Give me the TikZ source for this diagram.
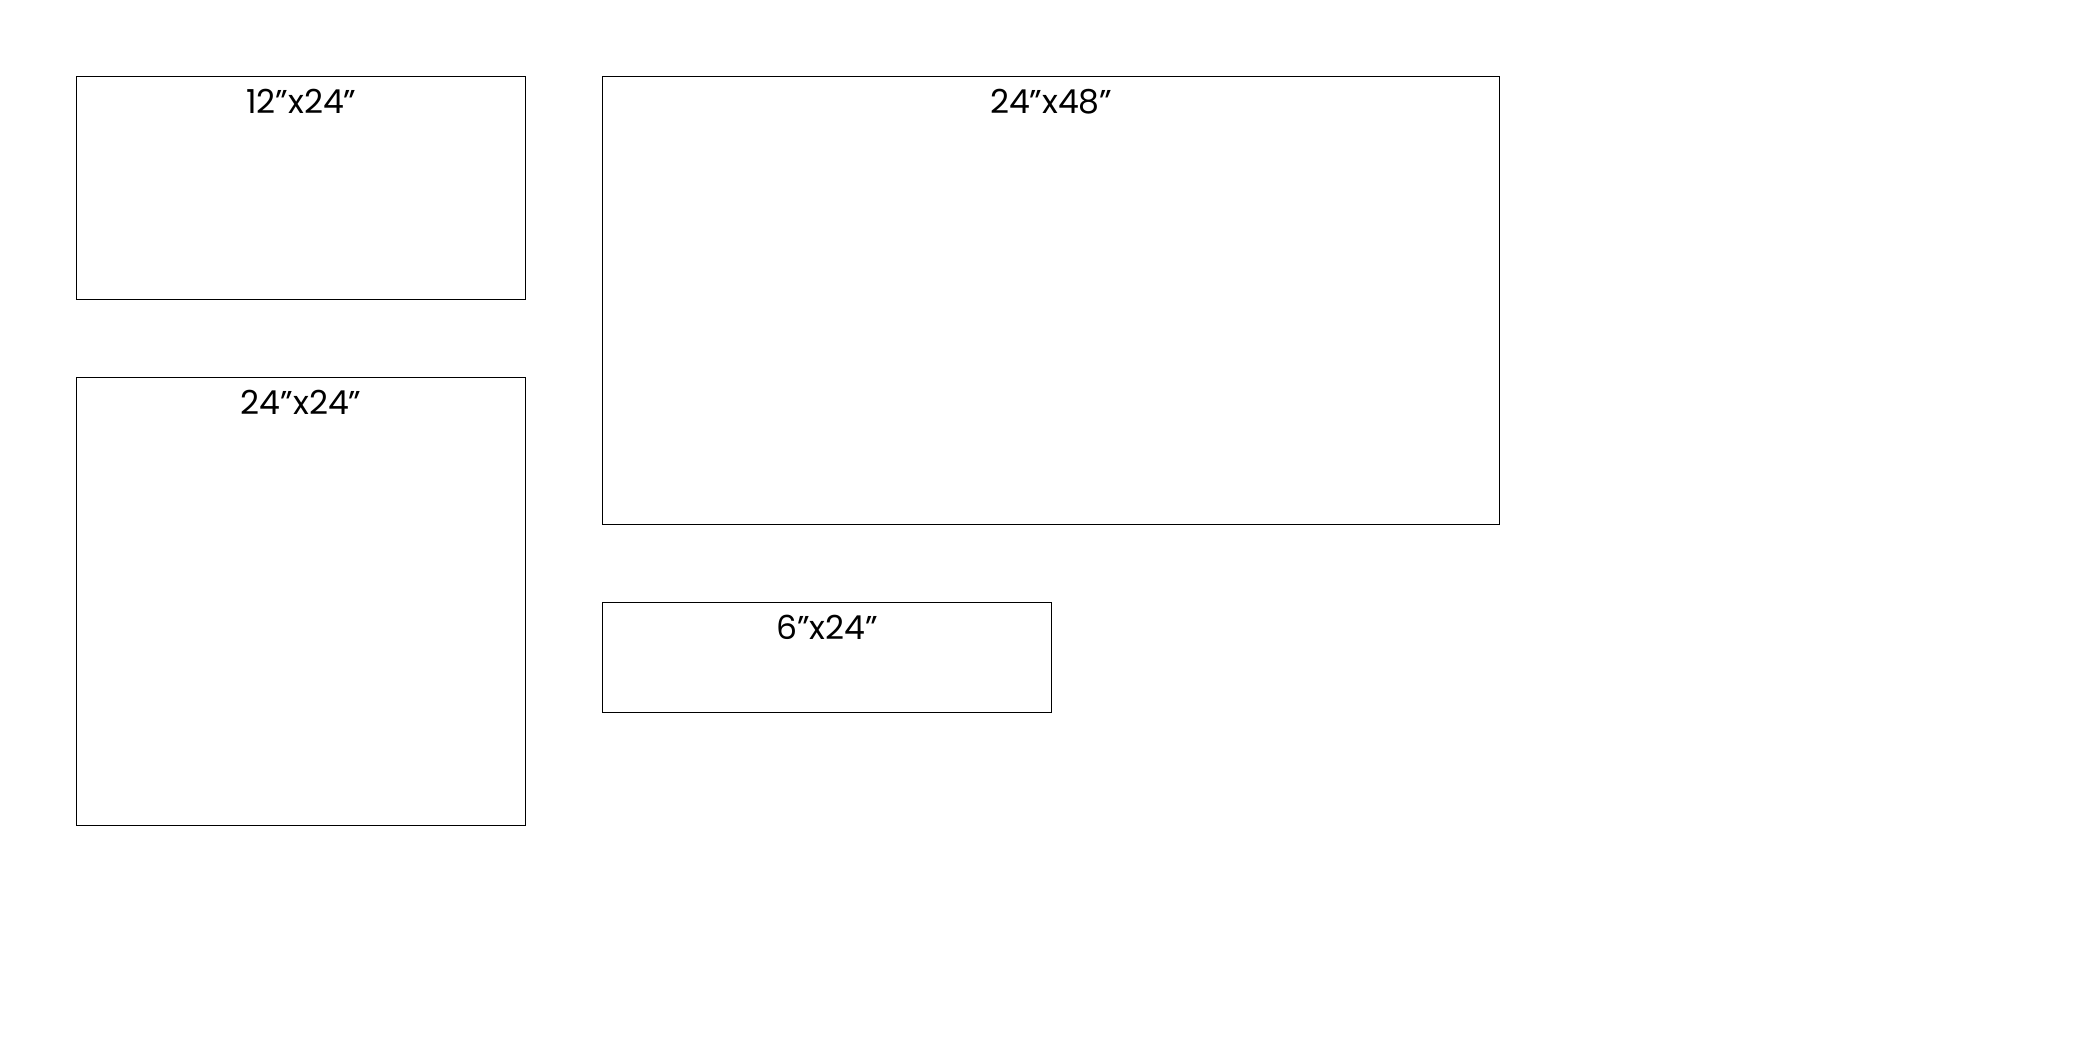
\documentclass[tikz,border=0pt]{standalone}
\usepackage{fontspec}
\setmainfont{Poppins}
\usetikzlibrary{positioning}

\tikzset{
  panel/.style={draw, line width=0.4pt, anchor=north west, inner sep=0pt},
  size label/.style={anchor=north, inner sep=0pt, font=\fontsize{9.4}{11}\selectfont}
}

\begin{document}
\begin{tikzpicture}
    \useasboundingbox (0,0) rectangle (20.83,10.42);

    % panels, 1in = 0.187cm
    \node[panel, minimum width=4.49cm, minimum height=2.23cm] (small) at (0.76,9.66) {};
    \node[panel, minimum width=4.49cm, minimum height=4.48cm] (square) at (0.76,6.65) {};
    \node[panel, minimum width=8.97cm, minimum height=4.48cm] (large) at (6.02,9.66) {};
    \node[panel, minimum width=4.49cm, minimum height=1.10cm] (strip) at (6.02,4.40) {};

    % size labels
    \node[size label, below=0.12cm of small.north] (smalltext) {12"x24"};
    \node[size label, below=0.12cm of square.north] (squaretext) {24"x24"};
    \node[size label, below=0.12cm of large.north] (largetext) {24"x48"};
    \node[size label, below=0.12cm of strip.north] (striptext) {6"x24"};
\end{tikzpicture}
\end{document}
